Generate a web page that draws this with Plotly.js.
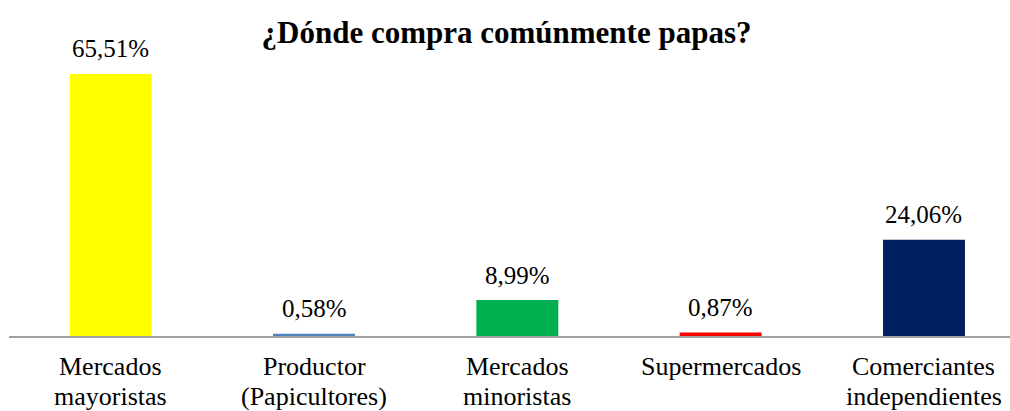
<!DOCTYPE html>
<html>
<head>
<meta charset="utf-8">
<script src="https://cdn.plot.ly/plotly-3.0.1.min.js"></script>
<style>html,body{margin:0;padding:0;background:#fff;}</style>
</head>
<body>
<div id="chart" style="width:1010px;height:411px;"></div>
<script>
const categories = ["Mercados<br>mayoristas", "Productor<br>(Papicultores)", "Mercados<br>minoristas", "Supermercados", "Comerciantes<br>independientes"];
const values = [65.51, 0.58, 8.99, 0.87, 24.06];
const valueLabels = ["65,51%", "0,58%", "8,99%", "0,87%", "24,06%"];
const barColors = ["#FFFF00", "#4F81BD", "#00B050", "#FF0000", "#002060"];

const idx = categories.map((c, i) => i);
const font = "Liberation Serif";

const trace = {
  type: "bar",
  x: idx,
  y: values,
  width: 0.403,
  marker: {color: barColors},
  hoverinfo: "none"
};

const annotations = idx.map(i => ({
  x: i, y: values[i], xref: "x", yref: "y",
  text: valueLabels[i], showarrow: false,
  yanchor: "bottom", yshift: 9.5,
  font: {family: font, size: 25, color: "#000"}
}));

// category labels, one annotation per line for Excel-like line spacing
const lineY = [-0.169, -0.276];
categories.forEach((c, i) => {
  c.split("<br>").forEach((line, k) => {
    annotations.push({
      x: i, y: lineY[k], xref: "x", yref: "paper",
      text: line, showarrow: false, yanchor: "bottom",
      font: {family: font, size: 26, color: "#000"}
    });
  });
});

const layout = {
  width: 1010, height: 411,
  margin: {l: 9.4, r: 0, t: 56, b: 75},
  paper_bgcolor: "#fff", plot_bgcolor: "#fff",
  showlegend: false,
  title: {text: "<b>¿Dónde compra comúnmente papas?</b>", x: 0.5015, xanchor: "center", y: 0.921, yanchor: "middle",
          font: {family: font, size: 31, color: "#000"}},
  xaxis: {
    tickmode: "array", tickvals: idx, showticklabels: false,
    range: [-0.5, 4.423], showgrid: false, zeroline: false,
    showline: true, linecolor: "#A0A0A0", linewidth: 1.5, ticks: ""
  },
  yaxis: {range: [0, 70], visible: false, showgrid: false, zeroline: false},
  annotations: annotations
};

Plotly.newPlot("chart", [trace], layout, {displayModeBar: false, staticPlot: true});
</script>
</body>
</html>
